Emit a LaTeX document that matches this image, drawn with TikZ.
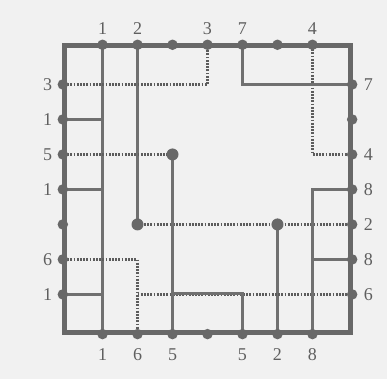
\documentclass[tikz,border=0pt]{standalone}
\usepackage{fontspec}
\setmainfont{Liberation Serif}
\definecolor{bg}{RGB}{241,241,241}
\definecolor{ln}{RGB}{112,112,112}
\definecolor{dl}{RGB}{92,92,92}
\definecolor{fr}{RGB}{104,104,104}
\definecolor{tx}{RGB}{95,95,95}
\begin{document}
\begin{tikzpicture}[x=35pt,y=35pt,
  wire/.style={ln, line width=2.2pt},
  dwire/.style={dl, line width=2.6pt, dash pattern=on 1.8pt off 1.4pt},
  frame/.style={fr, line width=5pt, line join=miter},
  pinlab/.style={font=\fontsize{18}{18}\selectfont, text=tx, inner sep=0pt},
  jdot/.style={circle, fill=fr, minimum size=12pt, inner sep=0pt}]
\fill[bg] (-5.93,-5.414) rectangle (5.13,5.414);
\useasboundingbox (-5.93,-5.414) rectangle (5.13,5.414);
% pins and grid
\foreach \i in {1,...,7} {
  \coordinate (t\i) at (\i-4, 4.1);
  \coordinate (b\i) at (\i-4, -4.1);
  \coordinate (l\i) at (-4.1, 4-\i);
  \coordinate (r\i) at (4.1, 4-\i);
  \foreach \j in {1,...,7} { \coordinate (g\i\j) at (\i-4, 4-\j); }
}
% junction dots (coordinates)
\coordinate (d25) at (g25);
\coordinate (d65) at (g65);
\coordinate (d33) at (g33);
% net 1
\draw[wire] (t1) -- (b1);
\draw[wire] (l2) -- (g12);
\draw[wire] (l4) -- (g14);
\draw[wire] (l7) -- (g17);
% net 2
\draw[wire] (t2) -- (d25);
\draw[wire] (b6) -- (d65);
\draw[dwire] (d25) -- (r5);
% net 3
\draw[dwire] (l1) -- (g41) -- (t4);
% net 4
\draw[dwire] (t7) -- (g73) -- (r3);
% net 6
\draw[dwire] (l6) -- (g26) -- (b2);
\draw[dwire] (g27) -- (r7);
% net 5
\draw[dwire] (l3) -- (d33);
\draw[wire] (d33) -- (b3);
\draw[wire] ([yshift=1pt]g37) -- ([yshift=1pt]g57) -- (b5);
% net 7
\draw[wire] (t5) -- (g51) -- (r1);
% net 8
\draw[wire] (b7) -- (g74) -- (r4);
\draw[wire] (g76) -- (r6);
% dots
\node[jdot] (n25) at (d25) {};
\node[jdot] (n65) at (d65) {};
\node[jdot] (n33) at (d33) {};
% frame
\draw[frame] (-4.1,-4.1) rectangle (4.1,4.1);
\foreach \i in {1,...,7} {
  \fill[fr] ([yshift=1.2pt]t\i) circle (0.15);
  \fill[fr] ([yshift=-1.2pt]b\i) circle (0.15);
  \fill[fr] ([xshift=-1.2pt]l\i) circle (0.15);
  \fill[fr] ([xshift=1.2pt]r\i) circle (0.15);
}
% labels
\foreach \i/\t in {1/1,2/2,4/3,5/7,7/4} { \node[pinlab] (tl\i) at (\i-4, 4.6) {\t}; }
\foreach \i/\t in {1/1,2/6,3/5,5/5,6/2,7/8} { \node[pinlab] (bl\i) at (\i-4, -4.72) {\t}; }
\foreach \j/\t in {1/3,2/1,3/5,4/1,6/6,7/1} { \node[pinlab] (ll\j) at (-4.57, 4-\j) {\t}; }
\foreach \j/\t in {1/7,3/4,4/8,5/2,6/8,7/6} { \node[pinlab] (rl\j) at (4.6, 4-\j) {\t}; }
\end{tikzpicture}
\end{document}
